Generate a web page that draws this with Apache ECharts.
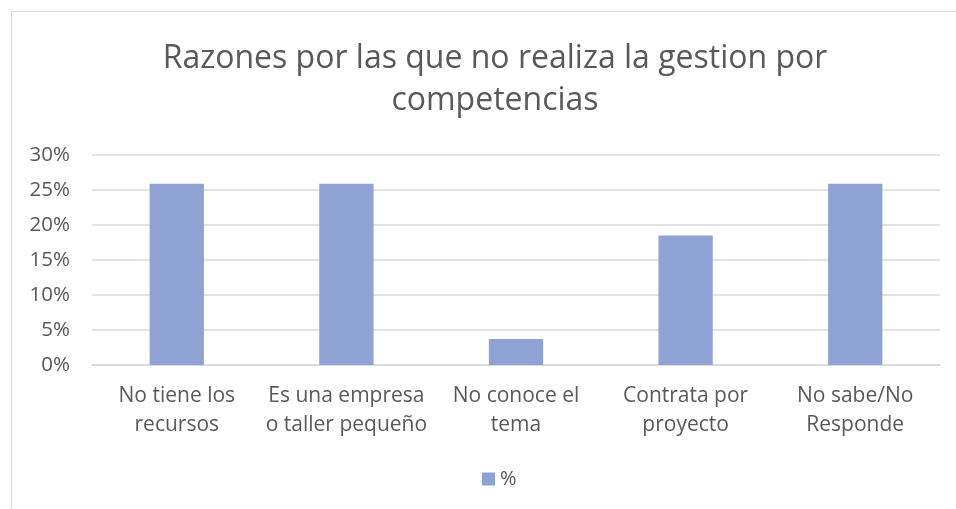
<!DOCTYPE html>
<html>
<head>
<meta charset="utf-8">
<script src="https://cdn.jsdelivr.net/npm/echarts@6/dist/echarts.min.js"></script>
<style>
  html, body { margin: 0; padding: 0; background: #fff; }
  #chart { width: 956px; height: 509px; }
</style>
</head>
<body>
<div id="chart"></div>
<script>
// Reasons given (categories), share of respondents (percent)
const categories = [
  'No tiene los\nrecursos',
  'Es una empresa\no taller pequeño',
  'No conoce el\ntema',
  'Contrata por\nproyecto',
  'No sabe/No\nResponde'
];
const percentValues = [25.9, 25.9, 3.7, 18.5, 25.9];
const seriesName = '%';
const titleText = 'Razones por las que no realiza la gestion por\ncompetencias';

const textColor = '#595959';
const fontFamily = '"Open Sans", "Noto Sans", sans-serif';

const chart = echarts.init(document.getElementById('chart'));
chart.setOption({
  backgroundColor: '#ffffff',
  animation: false,
  graphic: [
    // chart-area frame: top and left edges
    { type: 'line', shape: { x1: 11.5, y1: 11.5, x2: 956, y2: 11.5 }, style: { stroke: '#d9d9d9', lineWidth: 1 } },
    { type: 'line', shape: { x1: 11.5, y1: 11.5, x2: 11.5, y2: 509 }, style: { stroke: '#d9d9d9', lineWidth: 1 } }
  ],
  title: {
    text: titleText,
    left: 490,
    textAlign: 'center',
    top: 33,
    textStyle: {
      color: textColor,
      fontFamily: fontFamily,
      fontSize: 32,
      fontWeight: 'normal',
      lineHeight: 42
    }
  },
  legend: {
    data: [seriesName],
    left: 477,
    top: 464,
    itemWidth: 13,
    itemHeight: 13,
    itemGap: 6,
    icon: 'rect',
    textStyle: { color: textColor, fontFamily: fontFamily, fontSize: 20 }
  },
  grid: {
    left: 92,
    right: 16,
    top: 155,
    bottom: 144,
    containLabel: false
  },
  xAxis: {
    type: 'category',
    data: categories,
    axisLine: { show: true, lineStyle: { color: '#d9d9d9', width: 1.5 } },
    axisTick: { show: false },
    axisLabel: {
      color: textColor,
      fontFamily: fontFamily,
      fontSize: 21,
      lineHeight: 29,
      margin: 17,
      interval: 0
    }
  },
  yAxis: {
    type: 'value',
    min: 0,
    max: 30,
    interval: 5,
    axisLine: { show: false },
    axisTick: { show: false },
    splitLine: { lineStyle: { color: '#d9d9d9', width: 1.5 } },
    axisLabel: {
      color: textColor,
      fontFamily: fontFamily,
      fontSize: 20.5,
      margin: 22,
      formatter: v => v + '%'
    }
  },
  series: [{
    name: seriesName,
    type: 'bar',
    data: percentValues,
    barWidth: '32%',
    itemStyle: { color: '#8fa2d4' }
  }]
});
</script>
</body>
</html>
